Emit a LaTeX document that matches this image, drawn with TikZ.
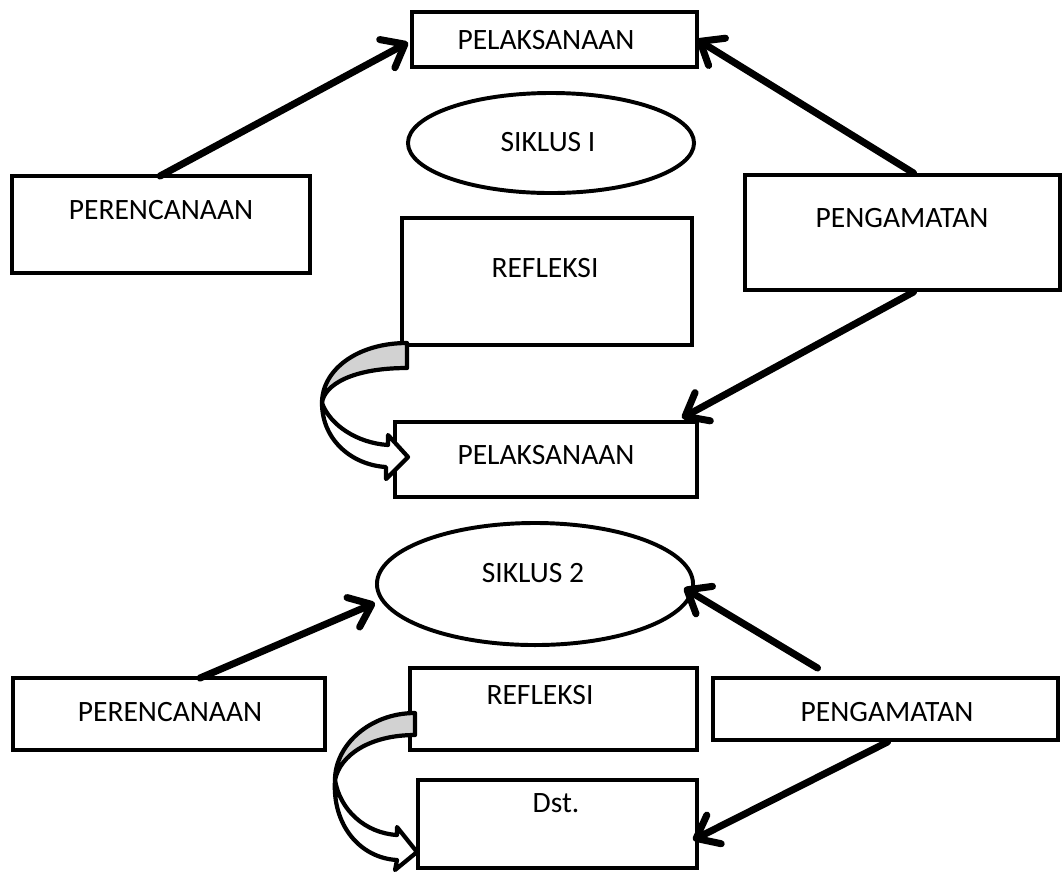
\documentclass[tikz,border=0pt]{standalone}
\usepackage{fontspec}
\setmainfont{Carlito}
\usetikzlibrary{arrows.meta,fit,calc,shapes.geometric}
\tikzset{
  box/.style={draw, line width=3pt, inner sep=0pt, outer sep=0pt},
  oval/.style={draw, ellipse, line width=2.8pt, inner sep=0pt, outer sep=0pt},
  flow/.style={line width=5pt, line cap=round, -{Straight Barb[length=5mm,width=8mm,round]}},
  uturn/.style={draw, line width=3pt, line join=round},
}
\begin{document}
\begin{tikzpicture}[font=\fontsize{21}{25}\selectfont]
\def\px{0.025cm}
\begin{scope}[x=\px, y=-\px]
\useasboundingbox (0,0) rectangle (1062,871);
\node[box, fit={(412,12) (697,67)}] (pel1) {};
\node[oval, minimum width=7.15cm, minimum height=2.5cm] (sik1) at (551,143) {};
\node[box, fit={(12,176) (310,273)}] (per1) {};
\node[box, fit={(745,175) (1060,290)}] (pen1) {};
\node[box, fit={(402,218) (692,345)}] (ref1) {};
\node[box, fit={(395,422) (697,497)}] (pel2) {};
\node[oval, minimum width=7.9cm, minimum height=3.05cm] (sik2) at (535,584) {};
\node[box, fit={(13,678) (325,750)}] (per2) {};
\node[box, fit={(410,668) (697,750)}] (ref2) {};
\node[box, fit={(713,678) (1058,740)}] (pen2) {};
\node[box, fit={(418,780) (697,868)}] (dst) {};

\node (pel1t) at (546,40) {PELAKSANAAN};
\node (sik1t) at (548,142) {SIKLUS I};
\node (per1t) at (161,210) {PERENCANAAN};
\node (pen1t) at (902,218) {PENGAMATAN};
\node (ref1t) at (545,268) {REFLEKSI};
\node (pel2t) at (546,455) {PELAKSANAAN};
\node (sik2t) at (533,573) {SIKLUS 2};
\node (per2t) at (170,712) {PERENCANAAN};
\node (ref2t) at (540,695) {REFLEKSI};
\node (pen2t) at (887,712) {PENGAMATAN};
\node (dstt) at (556,803) {Dst.};

\draw[flow] ($(per1.north)+(-1,0)$) -- ($(pel1.west)+(-4,3)$);
\draw[flow] ($(pen1.north)+(11,-2)$) -- (pel1.east);
\draw[flow] ($(pen1.south)+(11,2)$) -- ($(pel2.north east)+(-15,-4)$);
\draw[flow] ($(per2.north)+(31,0)$) -- ($(sik2.west)+(-2,19)$);
\draw[flow] ($(pen2.north)+(-68,-10)$) -- ($(sik2.east)+(-9,4)$);
\draw[flow] ($(pen2.south)+(2,2)$) -- ($(dst.east)+(-4,16)$);

\begin{scope}[shift={(ref1.south west)}]
\draw[uturn, fill=gray!35] (5,-2) .. controls (-45,-2) and (-80,25) .. (-80,58) .. controls (-78,40) and (-50,23) .. (5,23) -- cycle;
\draw[uturn, fill=white] (-80,58) .. controls (-72,80) and (-45,98) .. (-14,100) -- (-14,90) -- (6,112) -- (-16,134) -- (-16,122) .. controls (-50,120) and (-80,95) .. (-80,58) -- cycle;
\end{scope}
\begin{scope}[shift={(ref2.south west)}]
\draw[uturn, fill=gray!35] (5,-37) .. controls (-40,-37) and (-75,-5) .. (-75,30) .. controls (-70,5) and (-40,-15) .. (5,-15) -- cycle;
\draw[uturn, fill=white] (-75,30) .. controls (-70,60) and (-45,83) .. (-13,85) -- (-13,77) -- (7,102) -- (-15,120) -- (-13,110) .. controls (-50,108) and (-78,75) .. (-75,30) -- cycle;
\end{scope}
\end{scope}
\end{tikzpicture}
\end{document}
